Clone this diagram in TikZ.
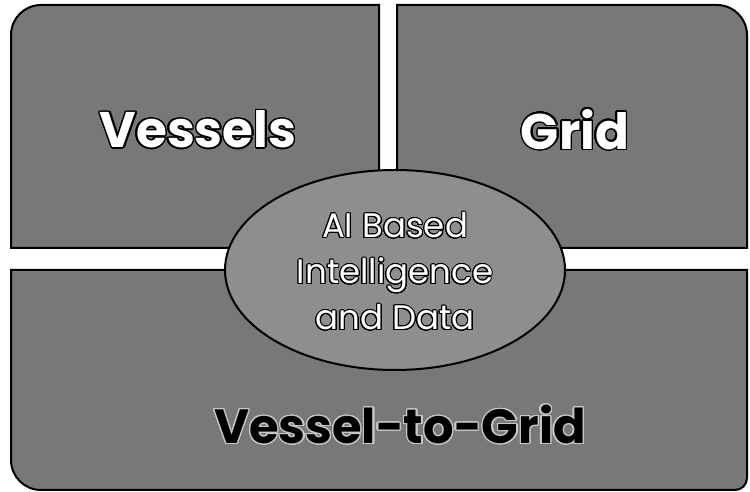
\documentclass[tikz,border=0pt]{standalone}
\usepackage{fontspec}
\usepackage[copies]{contour}
\usetikzlibrary{shapes.geometric}
\newfontfamily\pop{Poppins}
\definecolor{panelgray}{RGB}{120,120,120}
\definecolor{ellgray}{RGB}{142,142,142}
\definecolor{rimgray}{RGB}{200,200,200}
\contournumber{24}
\begin{document}
\begin{tikzpicture}[x=1pt,y=1pt,
  panel/.style={fill=panelgray,draw=black,line width=2pt},
  bigtitle/.style={font=\pop\bfseries\fontsize{50}{56}\selectfont,text=white,inner sep=0pt},
  bottomtitle/.style={font=\pop\bfseries\fontsize{48}{56}\selectfont,text=black,inner sep=0pt},
  centertext/.style={font=\pop\fontsize{34}{46}\selectfont,text=white,align=center,inner sep=0pt}]
\useasboundingbox (0,0) rectangle (750,492);
% top-left panel
\draw[panel] (379,244) -- (11,244) -- (11,457) arc[start angle=180,end angle=90,radius=30] -- (379,487) -- cycle;
% top-right panel
\draw[panel] (397,244) -- (397,487) -- (717,487) arc[start angle=90,end angle=0,radius=30] -- (747,244) -- cycle;
% bottom panel
\draw[panel] (747,222) -- (11,222) -- (11,32) arc[start angle=180,end angle=270,radius=30] -- (735,2) arc[start angle=270,end angle=360,radius=12] -- cycle;
% centre ellipse
\node[draw=black,line width=2pt,fill=ellgray,ellipse,inner sep=0pt,minimum width=340pt,minimum height=200pt] (ai) at (395,222) {};
\node[centertext] (aitext) at (395,220) {\contourlength{1pt}\contour{black}{AI Based}\\\contourlength{1pt}\contour{black}{Intelligence}\\\contourlength{1pt}\contour{black}{and Data}};
\node[bigtitle] (vessels) at (198,362) {\contourlength{1.5pt}\contour{black}{Vessels}};
\node[bigtitle] (grid) at (575,362) {\contourlength{1.5pt}\contour{black}{Grid}};
\node[bottomtitle] (v2g) at (400,67) {\contourlength{1.2pt}\contour{rimgray}{Vessel-to-Grid}};
\end{tikzpicture}
\end{document}
